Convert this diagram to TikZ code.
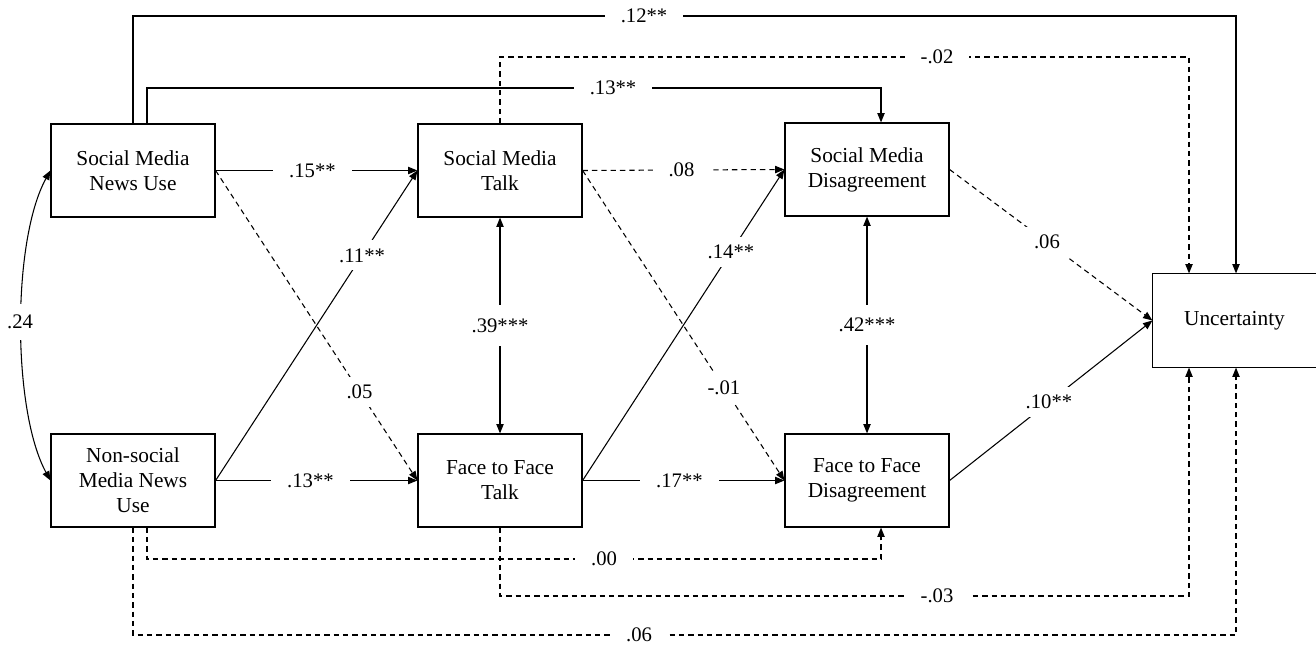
\documentclass[tikz,border=0pt]{standalone}
\usepackage{fontspec}
\setmainfont{Liberation Serif}
\usetikzlibrary{arrows.meta,calc}
\begin{document}
\begin{tikzpicture}[x=0.75pt,y=-0.75pt,
  box/.style={draw, line width=0.9pt, minimum width=123pt, minimum height=69.75pt, inner sep=0pt, align=center, font=\fontsize{16}{18.75}\selectfont},
  conn/.style={line width=0.8pt},
  dsh/.style={conn, dash pattern=on 4pt off 3pt},
  tip/.style={-{Triangle[length=7pt,width=5.5pt]}},
  both/.style={{Triangle[length=7pt,width=5.5pt]}-{Triangle[length=7pt,width=5.5pt]}},
  lbl/.style={fill=white, inner xsep=12pt, inner ysep=6pt, font=\fontsize{15.5}{18}\selectfont}]
\useasboundingbox (0,0) rectangle (1316,652);
\fill[white] (0,0) rectangle (1316,652);

% boxes
\node[box] (smnu) at (133,170.5) {Social Media\\News Use};
\node[box] (nsmnu) at (133,480.5) {Non-social\\Media News\\Use};
\node[box] (smt) at (500,170.5) {Social Media\\Talk};
\node[box] (fft) at (500,480.5) {Face to Face\\Talk};
\node[box] (smd) at (867,169.5) {Social Media\\Disagreement};
\node[box] (ffd) at (867,480.5) {Face to Face\\Disagreement};
\node[box, draw=none, minimum width=122.25pt] (unc) at (1234.5,320.5) {Uncertainty};
\draw[line width=0.9pt] (unc.north east) -- (unc.north west) -- (unc.south west) -- (unc.south east);

% long orthogonal paths
\coordinate (c12) at (1236,16);
\coordinate (c13) at (881,88);
\coordinate (c02) at (1189,57);
\coordinate (c00) at (881,559);
\coordinate (c03) at (1189,596);
\coordinate (c06) at (1236,635);
\draw[conn,tip] (smnu.north) |- (c12) -- (c12 |- unc.north);
\draw[conn,tip] ($(smnu.north)+(14,0)$) |- (c13) -- (c13 |- smd.north);
\draw[dsh,tip] (smt.north) |- (c02) -- (c02 |- unc.north);
\draw[dsh,tip] ($(nsmnu.south)+(14,0)$) |- (c00) -- (c00 |- ffd.south);
\draw[dsh,tip] (fft.south) |- (c03) -- (c03 |- unc.south);
\draw[dsh,tip] (nsmnu.south) |- (c06) -- (c06 |- unc.south);
\node[lbl] (l12) at (644,16) {.12**};
\node[lbl] (l13) at (613,88) {.13**};
\node[lbl] (l02) at (937,57) {-.02};
\node[lbl] (l00) at (604,559) {.00};
\node[lbl] (l03) at (937,596) {-.03};
\node[lbl] (l06b) at (639,635) {.06};

% direct paths
\draw[conn,tip] (smnu.east) -- node[lbl,pos=.48] (l15) {.15**} (smt.west);
\draw[conn,tip] (nsmnu.east) -- node[lbl,pos=.47] (l13b) {.13**} (fft.west);
\draw[conn,tip] (nsmnu.east) -- node[lbl,pos=.726] (l11) {.11**} (smt.west);
\draw[dsh,tip] (smnu.east) -- node[lbl,pos=.713] (l05) {.05} (fft.west);
\draw[dsh,tip] (smt.east) -- node[lbl,pos=.49] (l08) {.08} (smd.west);
\draw[conn,tip] (fft.east) -- node[lbl,pos=.48] (l17) {.17**} (ffd.west);
\draw[conn,tip] (fft.east) -- node[lbl,pos=.735] (l14) {.14**} (smd.west);
\draw[dsh,tip] (smt.east) -- node[lbl,pos=.70] (l01) {-.01} (ffd.west);
\draw[dsh,tip] (smd.east) -- node[lbl,pos=.48] (l06) {.06} (unc.west);
\draw[conn,tip] (ffd.east) -- node[lbl,pos=.49] (l10) {.10**} (unc.west);
\draw[conn,both] (smt.south) -- node[lbl,pos=.5,inner ysep=10pt] (l39) {.39***} (fft.north);
\draw[conn,both] (smd.south) -- node[lbl,pos=.5,inner ysep=10pt] (l42) {.42***} (ffd.north);

% correlation
\draw[conn,both] (smnu.west) .. controls (12,240) and (12,410) .. (nsmnu.west);
\node[lbl, inner xsep=2pt, inner ysep=8pt] (l24) at (20,322) {.24};
\end{tikzpicture}
\end{document}
